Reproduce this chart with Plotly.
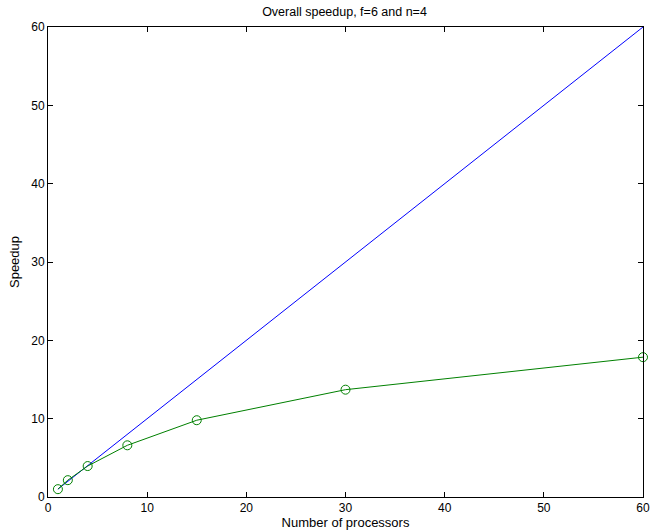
import plotly.graph_objects as go

procs = [1, 2, 4, 8, 15, 30, 60]
speedup = [1.0, 2.15, 3.95, 6.6, 9.8, 13.7, 17.85]
ideal_x = [1, 60]
ideal_y = [1, 60]

fig = go.Figure()
fig.add_trace(go.Scatter(x=ideal_x, y=ideal_y, mode="lines",
                         line=dict(color="#0000ff", width=1), showlegend=False))
fig.add_trace(go.Scatter(x=procs, y=speedup, mode="lines+markers",
                         line=dict(color="#008000", width=1),
                         marker=dict(symbol="circle-open", size=9, color="#008000",
                                     line=dict(width=1, color="#008000")),
                         showlegend=False, cliponaxis=False))

font = dict(family="Liberation Sans, Arial, sans-serif", size=12, color="black")
axis_common = dict(showgrid=False, zeroline=False, showline=True, linecolor="black",
                   linewidth=1, mirror="ticks", ticks="inside", ticklen=5,
                   tickcolor="black", dtick=10, tickfont=dict(size=12, color="black"),
                   automargin=False)
fig.update_layout(
    width=650, height=530,
    margin=dict(l=48, r=7, t=27, b=33),
    paper_bgcolor="white", plot_bgcolor="white",
    font=font,
    title=dict(text="Overall speedup, f=6 and n=4", x=0.53, xanchor="center",
               y=1 - 12 / 530, yanchor="middle", font=dict(size=12.5)),
    xaxis=dict(range=[0, 60], title=dict(text="Number of processors", standoff=1,
                                         font=dict(size=13)), **axis_common),
    yaxis=dict(range=[0, 60], title=dict(text="Speedup", standoff=8,
                                         font=dict(size=13)), **axis_common),
)
fig.write_html("out.html", config={"displayModeBar": False},
               post_script="document.body.style.margin='0px';document.body.style.overflow='hidden';")
